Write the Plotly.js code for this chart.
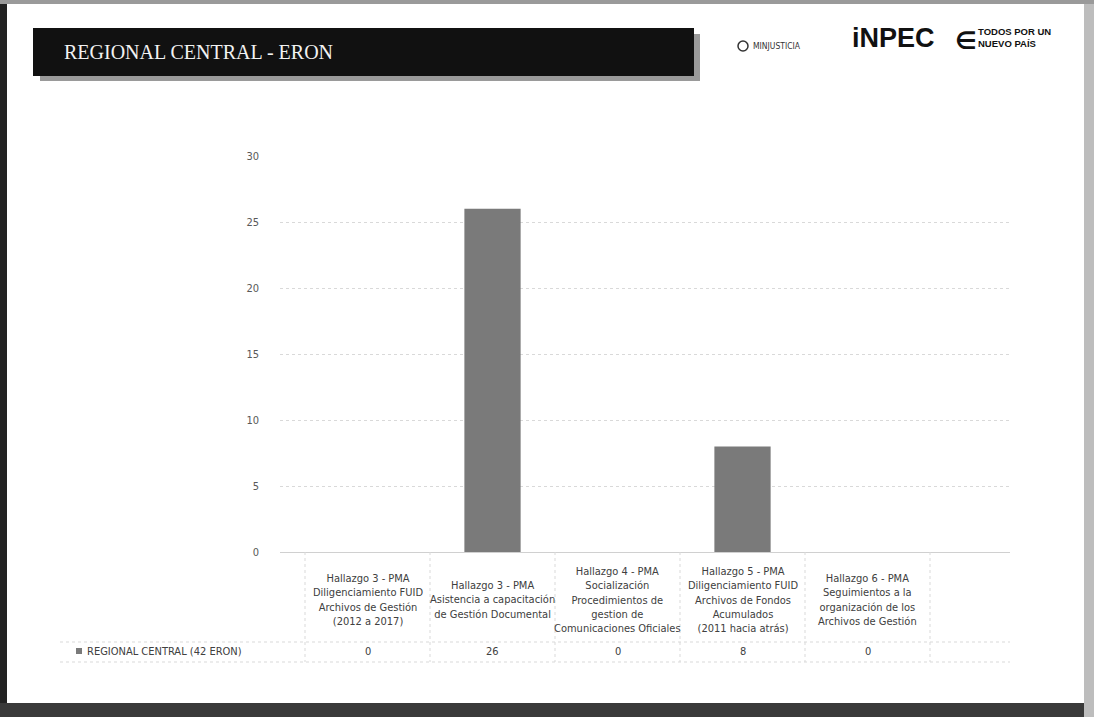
<!DOCTYPE html>
<html>
<head>
<meta charset="utf-8">
<script src="https://cdn.plot.ly/plotly-3.0.1.min.js"></script>
<style>html,body{margin:0;padding:0;background:#fff;}#chart{width:1094px;height:717px;}</style>
</head>
<body>
<div id="chart"></div>
<script>
// ---- data ----
const categories = [
  "Hallazgo 3 - PMA<br>Diligenciamiento FUID<br>Archivos de Gestión<br>(2012 a 2017)",
  "Hallazgo 3 - PMA<br>Asistencia a capacitación<br>de Gestión Documental",
  "Hallazgo 4 - PMA<br>Socialización<br>Procedimientos de<br>gestion de<br>Comunicaciones Oficiales",
  "Hallazgo 5 - PMA<br>Diligenciamiento FUID<br>Archivos de Fondos<br>Acumulados<br>(2011 hacia atrás)",
  "Hallazgo 6 - PMA<br>Seguimientos a la<br>organización de los<br>Archivos de Gestión"
];
const seriesName = "REGIONAL CENTRAL (42 ERON)";
const values = [0, 26, 0, 8, 0];
const yTicks = [0, 5, 10, 15, 20, 25, 30];
const pageTitle = "REGIONAL CENTRAL - ERON";

// ---- layout helpers (pixel -> paper) ----
const L = 280, R = 1010, T = 156, B = 552;
const px = p => (p - L) / (R - L);
const py = p => (B - p) / (B - T);
const idx = categories.map((c, i) => i);

const shapes = [];
const annotations = [];
const grey = '#404040';
const tblFont = 'Liberation Sans Narrow, DejaVu Sans Condensed, Liberation Sans, sans-serif';

// page frame / scan edges
shapes.push({type:'rect', xref:'paper', yref:'paper', x0:px(0), x1:px(7), y0:py(717), y1:py(0), fillcolor:'#222', line:{width:0}, layer:'below'});
shapes.push({type:'rect', xref:'paper', yref:'paper', x0:px(0), x1:px(1094), y0:py(717), y1:py(703), fillcolor:'#3a3a3a', line:{width:0}, layer:'below'});
shapes.push({type:'rect', xref:'paper', yref:'paper', x0:px(1084), x1:px(1094), y0:py(717), y1:py(0), fillcolor:'#bdbdbd', line:{width:0}, layer:'below'});
shapes.push({type:'rect', xref:'paper', yref:'paper', x0:px(0), x1:px(1094), y0:py(4), y1:py(0), fillcolor:'#9a9a9a', line:{width:0}, layer:'below'});

// title banner with shadow
shapes.push({type:'rect', xref:'paper', yref:'paper', x0:px(40), x1:px(700), y0:py(81), y1:py(34), fillcolor:'#9a9a9a', line:{width:0}});
shapes.push({type:'rect', xref:'paper', yref:'paper', x0:px(33), x1:px(694), y0:py(76), y1:py(28), fillcolor:'#111', line:{width:0}});
annotations.push({xref:'paper', yref:'paper', x:px(62), y:py(52), xanchor:'left', yanchor:'middle', showarrow:false,
  text:pageTitle, font:{family:'Liberation Serif, DejaVu Serif, serif', size:20, color:'#f2f2f2'}});

// logos (as text)
shapes.push({type:'circle', xref:'paper', yref:'paper', x0:px(738), x1:px(748), y0:py(51), y1:py(41), line:{color:'#333', width:1.5}, fillcolor:'#fff'});
annotations.push({xref:'paper', yref:'paper', x:px(751), y:py(46), xanchor:'left', yanchor:'middle', showarrow:false,
  text:'MINJUSTICIA', font:{family:tblFont, size:8.5, color:'#333'}});
annotations.push({xref:'paper', yref:'paper', x:px(850), y:py(38), xanchor:'left', yanchor:'middle', showarrow:false,
  text:'<b>iNPEC</b>', font:{family:'Liberation Sans, Arial, sans-serif', size:27, color:'#111'}});
annotations.push({xref:'paper', yref:'paper', x:px(953), y:py(41), xanchor:'left', yanchor:'middle', showarrow:false,
  text:'<b>∈</b>', font:{family:'DejaVu Sans, sans-serif', size:24, color:'#111'}});
annotations.push({xref:'paper', yref:'paper', x:px(976), y:py(38), xanchor:'left', yanchor:'middle', showarrow:false,
  text:'<b>TODOS POR UN</b><br><b>NUEVO PAÍS</b>', align:'left',
  font:{family:'Liberation Sans, sans-serif', size:9.5, color:'#111'}});

// data table grid
const tblLeft = 60, rowTop = 642, rowBot = 662;
const gridLine = {color:'#d9d9d9', width:1, dash:'dot'};
shapes.push({type:'line', xref:'paper', yref:'paper', x0:px(tblLeft), x1:px(1010), y0:py(rowTop), y1:py(rowTop), line:gridLine});
shapes.push({type:'line', xref:'paper', yref:'paper', x0:px(tblLeft), x1:px(1010), y0:py(rowBot), y1:py(rowBot), line:gridLine});
for (let i = 0; i <= categories.length; i++) {
  shapes.push({type:'line', xref:'x', yref:'paper', x0:i - 0.5, x1:i - 0.5, y0:py(B), y1:py(rowBot), line:gridLine});
}
// category header cells
categories.forEach((c, i) => {
  annotations.push({xref:'x', yref:'paper', x:i, y:py(600), xanchor:'center', yanchor:'middle', showarrow:false,
    text:c, align:'center', font:{family:tblFont, size:11, color:grey}});
  annotations.push({xref:'x', yref:'paper', x:i, y:py(651), xanchor:'center', yanchor:'middle', showarrow:false,
    text:String(values[i]), font:{family:tblFont, size:11, color:grey}});
});
// legend key + row label
shapes.push({type:'rect', xref:'paper', yref:'paper', x0:px(76), x1:px(82), y0:py(654), y1:py(648), fillcolor:'#7a7a7a', line:{width:0}});
annotations.push({xref:'paper', yref:'paper', x:px(85), y:py(651), xanchor:'left', yanchor:'middle', showarrow:false,
  text:seriesName, font:{family:tblFont, size:11, color:grey}});

const trace = {
  type:'bar', x:idx, y:values, name:seriesName,
  marker:{color:'#7a7a7a', line:{width:0}}, width:0.45, hoverinfo:'skip'
};

const layout = {
  width:1094, height:717,
  margin:{l:L, r:1094 - R, t:T, b:717 - B, pad:0},
  paper_bgcolor:'#ffffff', plot_bgcolor:'#ffffff',
  showlegend:false,
  xaxis:{range:[-0.7, 5.14], showticklabels:false, showgrid:false, zeroline:false, ticks:'', fixedrange:true},
  yaxis:{range:[0, 30], tickvals:yTicks, ticktext:yTicks.map(String), showgrid:true,
    gridcolor:'#d9d9d9', griddash:'dot', gridwidth:1, zeroline:true, zerolinecolor:'#d0d0d0', zerolinewidth:1,
    showline:false, ticks:'', ticklabelstandoff:20,
    tickfont:{family:tblFont, size:11, color:'#595959'}},
  shapes:shapes, annotations:annotations
};

Plotly.newPlot('chart', [trace], layout, {displayModeBar:false, staticPlot:true});
</script>
</body>
</html>
